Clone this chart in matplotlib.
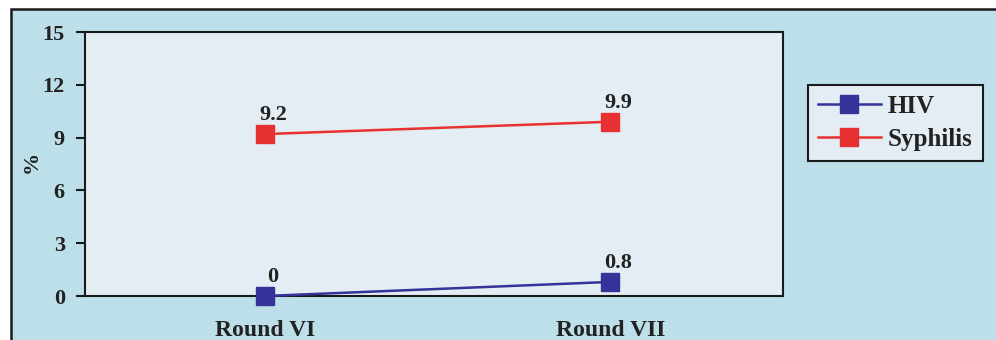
import matplotlib.pyplot as plt
from matplotlib.patches import Rectangle

rounds = ["Round VI", "Round VII"]
hiv = [0, 0.8]
syphilis = [9.2, 9.9]
yticks = [0, 3, 6, 9, 12, 15]

outer_bg = "#bddfe9"
plot_bg = "#e4edf3"
ink = "#222222"
font = dict(family="Liberation Serif", weight="bold", color=ink)

fig = plt.figure(figsize=(9.96, 3.40), dpi=100, facecolor="white")

# light blue panel with a black frame along the top and left
fig.patches.append(Rectangle((10.5 / 996, -0.1), 1.2, (340 - 8.5) / 340 + 0.1,
                             transform=fig.transFigure, facecolor=outer_bg,
                             edgecolor="#1a1a1a", linewidth=1.8, zorder=-10))

ax = fig.add_axes([85 / 996, 44 / 340, 698 / 996, 264 / 340])
ax.set_facecolor(plot_bg)

x = range(len(rounds))
ax.plot(x, hiv, color="#333399", lw=1.8, marker="s", ms=13, mec="#333399",
        label="HIV", clip_on=False, zorder=5)
ax.plot(x, syphilis, color="#e83232", lw=1.8, marker="s", ms=13, mec="#e83232",
        label="Syphilis", clip_on=False, zorder=5)

# value labels sit a little above and to the right of each marker
for series in (hiv, syphilis):
    for i, v in enumerate(series):
        ax.annotate(f"{v:g}", (i, v), xytext=(6, 10), textcoords="offset points",
                    ha="center", va="baseline", fontsize=16, **font)

ax.set_xlim(-0.52, 1.5)
ax.set_ylim(0, 15)
ax.set_yticks(yticks)
ax.set_xticks(list(x))
ax.set_xticklabels(rounds, fontsize=17, **font)
for lab in ax.get_yticklabels():
    lab.set(fontsize=16, **font)
ax.tick_params(axis="x", length=0, pad=17)
ax.tick_params(axis="y", length=6.5, width=1.5, pad=8, color="#1a1a1a")
for s in ax.spines.values():
    s.set_linewidth(1.5)
    s.set_color("#1a1a1a")

fig.text(32 / 996, 1 - 162 / 340, "%", rotation=90, ha="center", va="center",
         fontsize=16, **font)

leg = ax.legend(loc="upper left", bbox_to_anchor=(808 / 996, 1 - 85 / 340),
                bbox_transform=fig.transFigure, frameon=True, fancybox=False,
                facecolor=plot_bg, edgecolor="#1a1a1a", framealpha=1,
                handlelength=2.5, handletextpad=0.3, labelspacing=0.4,
                borderpad=0.4, borderaxespad=0,
                prop=dict(family="Liberation Serif", weight="bold", size=18))
leg.get_frame().set_linewidth(1.5)
for t in leg.get_texts():
    t.set_color(ink)

fig.savefig("out.png", dpi=100, facecolor=fig.get_facecolor())
